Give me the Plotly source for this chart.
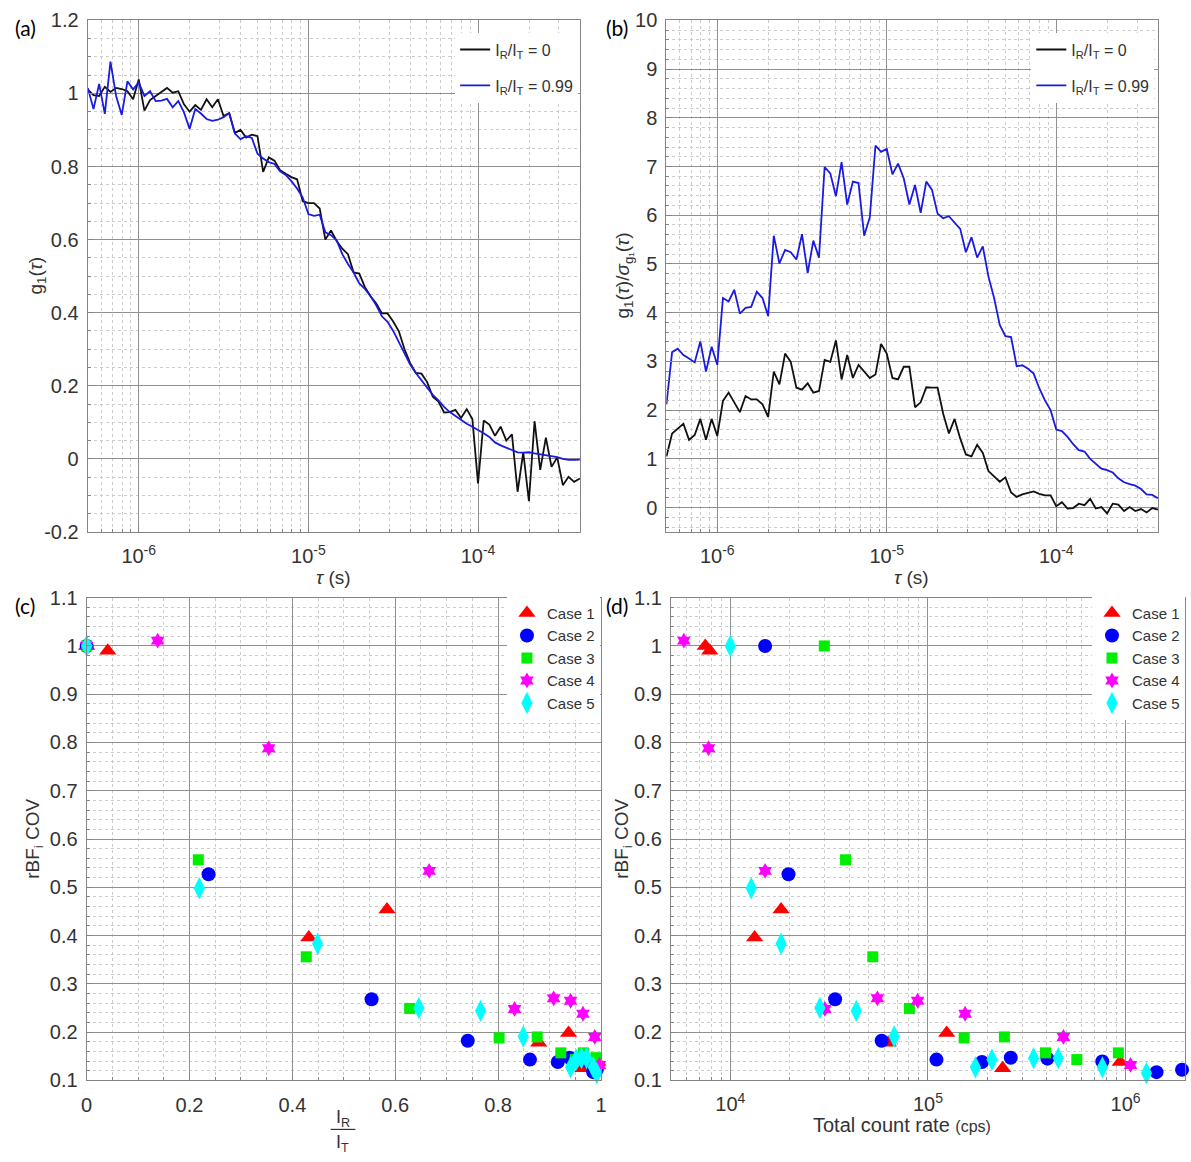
import plotly.graph_objects as go

W, H = 1191, 1162

# ---------------- data ----------------
tau_s = [
    5.012e-7, 5.412e-7, 5.843e-7, 6.310e-7, 6.813e-7, 7.356e-7, 7.943e-7, 8.577e-7, 9.261e-7,
    1.000e-6, 1.080e-6, 1.166e-6, 1.259e-6, 1.359e-6, 1.468e-6, 1.585e-6, 1.711e-6, 1.848e-6, 1.995e-6,
    2.154e-6, 2.326e-6, 2.512e-6, 2.712e-6, 2.929e-6, 3.162e-6, 3.415e-6, 3.687e-6, 3.981e-6, 4.299e-6,
    4.642e-6, 5.012e-6, 5.412e-6, 5.843e-6, 6.310e-6, 6.813e-6, 7.356e-6, 7.943e-6, 8.577e-6, 9.261e-6,
    1.000e-5, 1.080e-5, 1.166e-5, 1.259e-5, 1.359e-5, 1.468e-5, 1.585e-5, 1.711e-5, 1.848e-5, 1.995e-5,
    2.154e-5, 2.326e-5, 2.512e-5, 2.712e-5, 2.929e-5, 3.162e-5, 3.415e-5, 3.687e-5, 3.981e-5, 4.299e-5,
    4.642e-5, 5.012e-5, 5.412e-5, 5.843e-5, 6.310e-5, 6.813e-5, 7.356e-5, 7.943e-5, 8.577e-5, 9.261e-5,
    1.000e-4, 1.080e-4, 1.166e-4, 1.259e-4, 1.359e-4, 1.468e-4, 1.585e-4, 1.711e-4, 1.848e-4, 1.995e-4,
    2.154e-4, 2.326e-4, 2.512e-4, 2.712e-4, 2.929e-4, 3.162e-4, 3.415e-4, 3.687e-4, 3.981e-4,
]

g1_ratio0 = [
    1.010, 0.995, 0.993, 1.018, 1.004, 1.015, 1.012, 1.006, 0.984, 1.038,
    0.953, 0.982, 0.993, 1.004, 1.015, 1.002, 1.006, 0.970, 0.950, 0.968,
    0.955, 0.984, 0.962, 0.984, 0.938, 0.946, 0.892, 0.900, 0.879, 0.887,
    0.883, 0.785, 0.825, 0.816, 0.790, 0.780, 0.771, 0.765, 0.705, 0.700,
    0.700, 0.685, 0.600, 0.625, 0.596, 0.575, 0.560, 0.510, 0.507, 0.470,
    0.445, 0.425, 0.398, 0.398, 0.376, 0.349, 0.300, 0.262, 0.235, 0.233,
    0.210, 0.170, 0.157, 0.127, 0.128, 0.134, 0.112, 0.136, 0.109, -0.067,
    0.105, 0.094, 0.063, 0.088, 0.050, 0.067, -0.090, 0.018, -0.116, 0.103,
    -0.030, 0.058, -0.022, 0.004, -0.072, -0.049, -0.063, -0.054,
]

g1_ratio099 = [
    1.015, 0.957, 1.026, 0.944, 1.087, 0.993, 0.941, 1.033, 1.011, 1.030,
    0.993, 1.006, 0.979, 0.980, 0.985, 0.962, 0.979, 0.948, 0.903, 0.957,
    0.945, 0.930, 0.925, 0.928, 0.935, 0.946, 0.890, 0.875, 0.883, 0.878,
    0.835, 0.822, 0.812, 0.807, 0.787, 0.777, 0.760, 0.740, 0.715, 0.670,
    0.665, 0.668, 0.620, 0.612, 0.598, 0.560, 0.533, 0.510, 0.480, 0.465,
    0.445, 0.420, 0.390, 0.375, 0.350, 0.318, 0.290, 0.258, 0.235, 0.215,
    0.198, 0.175, 0.160, 0.142, 0.128, 0.117, 0.107, 0.096, 0.088, 0.080,
    0.070, 0.060, 0.045, 0.037, 0.030, 0.023, 0.018, 0.017, 0.018, 0.015,
    0.013, 0.010, 0.009, 0.005, 0.000, -0.003, -0.003, -0.002,
]

snr_ratio0 = [
    1.05, 1.52, 1.62, 1.72, 1.39, 1.49, 1.82, 1.39, 1.82, 1.47,
    2.19, 2.36, 2.16, 1.96, 2.29, 2.22, 2.22, 2.12, 1.86, 2.79,
    2.53, 3.16, 2.99, 2.46, 2.42, 2.55, 2.36, 2.39, 3.03, 2.99,
    3.43, 2.63, 3.13, 2.66, 2.93, 2.79, 2.66, 2.73, 3.36, 3.16,
    2.66, 2.63, 2.89, 2.89, 2.06, 2.16, 2.47, 2.46, 2.46, 1.92,
    1.52, 1.82, 1.42, 1.09, 1.05, 1.29, 1.12, 0.75, 0.65, 0.53,
    0.62, 0.31, 0.22, 0.27, 0.30, 0.33, 0.28, 0.25, 0.25, 0.03,
    0.11, -0.02, -0.01, 0.08, 0.05, 0.18, -0.02, 0.01, -0.12, 0.08,
    0.06, -0.07, 0.01, -0.07, -0.03, -0.10, -0.01, -0.04,
]

snr_ratio099 = [
    2.12, 3.19, 3.26, 3.13, 3.06, 2.98, 3.41, 2.79, 3.30, 2.93,
    4.30, 4.23, 4.47, 3.98, 4.10, 4.12, 4.43, 4.30, 3.93, 5.58,
    5.01, 5.29, 5.24, 5.09, 5.61, 4.81, 5.48, 5.13, 6.99, 6.86,
    6.39, 7.09, 6.22, 6.69, 6.66, 5.58, 5.96, 7.43, 7.30, 7.36,
    6.84, 7.06, 6.76, 6.22, 6.62, 6.05, 6.69, 6.52, 6.03, 5.94,
    5.98, 5.85, 5.72, 5.24, 5.55, 5.13, 5.36, 4.74, 4.30, 3.75,
    3.52, 3.50, 2.90, 2.92, 2.85, 2.75, 2.45, 2.20, 2.00, 1.60,
    1.57, 1.45, 1.30, 1.18, 1.15, 1.00, 0.90, 0.80, 0.77, 0.72,
    0.60, 0.52, 0.48, 0.45, 0.38, 0.27, 0.26, 0.19,
]

case_names = ["Case 1", "Case 2", "Case 3", "Case 4", "Case 5"]

ratio_case1 = [0.0, 0.041, 0.432, 0.584, 0.879, 0.937, 0.965, 0.994]
rate_case1 = [7470, 7870, 13280, 18070, 63000, 124500, 239000, 940000]
cov_case1 = [1.0, 0.99, 0.396, 0.454, 0.178, 0.198, 0.125, 0.138]

ratio_case2 = [0.0, 0.237, 0.554, 0.741, 0.862, 0.916, 0.939, 0.960, 0.975, 0.985, 0.992]
rate_case2 = [15000, 19700, 33900, 58300, 110500, 187600, 262500, 402500, 763000, 1435000, 1932000]
cov_case2 = [1.0, 0.527, 0.268, 0.182, 0.143, 0.138, 0.147, 0.145, 0.139, 0.117, 0.122]

ratio_case3 = [0.0, 0.217, 0.427, 0.628, 0.802, 0.876, 0.922, 0.950, 0.966, 0.990]
rate_case3 = [29900, 38300, 52600, 80600, 152500, 243800, 393500, 567000, 920000, 2020000]
cov_case3 = [1.0, 0.557, 0.356, 0.249, 0.188, 0.190, 0.157, 0.143, 0.157, 0.147]

ratio_case4 = [0.0, 0.138, 0.354, 0.666, 0.832, 0.908, 0.941, 0.965, 0.988, 0.997]
rate_case4 = [5000, 5820, 7760, 15000, 30100, 55500, 88700, 154200, 485000, 1060000]
cov_case4 = [1.0, 1.011, 0.788, 0.534, 0.248, 0.270, 0.265, 0.238, 0.190, 0.132]

ratio_case5 = [0.0, 0.219, 0.449, 0.646, 0.766, 0.849, 0.941, 0.952, 0.962, 0.972, 0.985, 0.992]
rate_case5 = [10000, 12760, 18070, 28400, 43400, 67500, 174000, 211000, 342600, 456600, 763600, 1276000]
cov_case5 = [1.0, 0.498, 0.383, 0.250, 0.244, 0.191, 0.127, 0.143, 0.146, 0.146, 0.127, 0.115]

tau_ticks = [1e-6, 1e-5, 1e-4]
tau_ticktext = ["10<sup>-6</sup>", "10<sup>-5</sup>", "10<sup>-4</sup>"]
rate_ticks = [1e4, 1e5, 1e6]
rate_ticktext = ["10<sup>4</sup>", "10<sup>5</sup>", "10<sup>6</sup>"]
g1_ticks = [-0.2, 0, 0.2, 0.4, 0.6, 0.8, 1, 1.2]
g1_ticktext = ["-0.2", "0", "0.2", "0.4", "0.6", "0.8", "1", "1.2"]
snr_ticks = [0, 1, 2, 3, 4, 5, 6, 7, 8, 9, 10]
cov_ticks = [0.1, 0.2, 0.3, 0.4, 0.5, 0.6, 0.7, 0.8, 0.9, 1.0, 1.1]
cov_ticktext = ["0.1", "0.2", "0.3", "0.4", "0.5", "0.6", "0.7", "0.8", "0.9", "1", "1.1"]
ratio_ticks = [0, 0.2, 0.4, 0.6, 0.8, 1.0]
ratio_ticktext = ["0", "0.2", "0.4", "0.6", "0.8", "1"]

# ---------------- style ----------------
FONT = "Liberation Sans, Arial, Helvetica, sans-serif"
TXT = "#333333"
GRID = "#909090"
MINOR = "#cccccc"
FRAME = "#858585"
BLACK = "#111111"
BLUE = "#1a1ae0"
case_colors = ["#ff0000", "#0000ff", "#00ee00", "#ff00ff", "#00ffff"]
case_symbols = ["triangle-up", "circle", "square", "hexagram", "diamond-tall"]
case_sizes = [15, 14, 11, 12, 16]

tau_minor = [m * 10 ** e for e in (-7, -6, -5, -4) for m in range(2, 10)
             if 5e-7 <= m * 10 ** e <= 4e-4]
rate_minor = [m * 10 ** e for e in (3, 4, 5, 6) for m in range(2, 10)
              if 5e3 <= m * 10 ** e <= 2e6]


def axis(domain, **kw):
    d = dict(domain=domain, showline=True, linecolor=FRAME, linewidth=1, mirror=True,
             ticks="inside", ticklen=6, tickcolor=FRAME, showgrid=True, gridcolor=GRID,
             gridwidth=1, zeroline=False, tickfont=dict(family=FONT, size=20, color=TXT),
             tickmode="array")
    d.update(kw)
    return d


def lin_minor(dt):
    return dict(tickmode="linear", tick0=0, dtick=dt, showgrid=True, gridcolor=MINOR,
                griddash="dot", gridwidth=1, ticks="inside", ticklen=3, tickcolor=FRAME)


def log_minor(vals):
    return dict(tickmode="array", tickvals=vals, showgrid=True, gridcolor=MINOR,
                griddash="dot", gridwidth=1, ticks="inside", ticklen=3, tickcolor=FRAME)


fig = go.Figure()

# (a)
fig.add_trace(go.Scatter(x=tau_s, y=g1_ratio0, mode="lines", line=dict(color=BLACK, width=1.8),
                         name="I<sub>R</sub>/I<sub>T</sub> = 0", legendgroup="a0",
                         xaxis="x", yaxis="y", legend="legend"))
fig.add_trace(go.Scatter(x=tau_s, y=g1_ratio099, mode="lines", line=dict(color=BLUE, width=1.8),
                         name="I<sub>R</sub>/I<sub>T</sub> = 0.99", legendgroup="a1",
                         xaxis="x", yaxis="y", legend="legend"))
# (b)
fig.add_trace(go.Scatter(x=tau_s, y=snr_ratio0, mode="lines", line=dict(color=BLACK, width=1.8),
                         name="I<sub>R</sub>/I<sub>T</sub> = 0", legendgroup="b0",
                         xaxis="x2", yaxis="y2", legend="legend2"))
fig.add_trace(go.Scatter(x=tau_s, y=snr_ratio099, mode="lines", line=dict(color=BLUE, width=1.8),
                         name="I<sub>R</sub>/I<sub>T</sub> = 0.99", legendgroup="b1",
                         xaxis="x2", yaxis="y2", legend="legend2"))

ratios = [ratio_case1, ratio_case2, ratio_case3, ratio_case4, ratio_case5]
rates = [rate_case1, rate_case2, rate_case3, rate_case4, rate_case5]
covs = [cov_case1, cov_case2, cov_case3, cov_case4, cov_case5]

for i in range(5):
    mk = dict(symbol=case_symbols[i], size=case_sizes[i], color=case_colors[i],
              line=dict(width=0))
    fig.add_trace(go.Scatter(x=ratios[i], y=covs[i], mode="markers", marker=mk,
                             name=case_names[i], xaxis="x3", yaxis="y3", legend="legend3",
                             cliponaxis=False))
for i in range(5):
    mk = dict(symbol=case_symbols[i], size=case_sizes[i], color=case_colors[i],
              line=dict(width=0))
    fig.add_trace(go.Scatter(x=rates[i], y=covs[i], mode="markers", marker=mk,
                             name=case_names[i], xaxis="x4", yaxis="y4", legend="legend4",
                             cliponaxis=False))

# domains (pixel based)
ya_dom = [1 - 531 / H, 1 - 9.5 / H]
yc_dom = [1 - 1090 / H, 1 - 598 / H]

LEGFONT = dict(family=FONT, size=15, color=TXT)

fig.update_layout(
    width=W, height=H, margin=dict(l=0, r=0, t=0, b=0),
    paper_bgcolor="white", plot_bgcolor="white",
    font=dict(family=FONT, color=TXT),
    xaxis=axis([82.5 / W, 580 / W], type="log", range=[-6.301, -3.398],
               tickvals=tau_ticks, ticktext=tau_ticktext, minor=log_minor(tau_minor),
               anchor="y", ticklabelstandoff=6),
    yaxis=axis(ya_dom, range=[-0.2, 1.2], tickvals=g1_ticks, ticktext=g1_ticktext,
               minor=lin_minor(0.05), anchor="x", ticklabelstandoff=4),
    xaxis2=axis([667 / W, 1164 / W], type="log", range=[-6.301, -3.398],
                tickvals=tau_ticks, ticktext=tau_ticktext, minor=log_minor(tau_minor),
                anchor="y2", ticklabelstandoff=6),
    yaxis2=axis(ya_dom, range=[-0.5, 10], tickvals=snr_ticks,
                ticktext=[str(v) for v in snr_ticks],
                minor=lin_minor(0.2), anchor="x2", ticklabelstandoff=4),
    xaxis3=axis([81.5 / W, 601 / W], range=[0, 1], tickvals=ratio_ticks, ticktext=ratio_ticktext,
                minor=lin_minor(0.05), anchor="y3", ticklabelstandoff=7),
    yaxis3=axis(yc_dom, range=[0.1, 1.1], tickvals=cov_ticks, ticktext=cov_ticktext,
                minor=lin_minor(0.02), anchor="x3", ticklabelstandoff=4),
    xaxis4=axis([671.6 / W, 1.0], type="log", range=[3.699, 6.301],
                tickvals=rate_ticks, ticktext=rate_ticktext, minor=log_minor(rate_minor),
                anchor="y4", ticklabelstandoff=6),
    yaxis4=axis(yc_dom, range=[0.1, 1.1], tickvals=cov_ticks, ticktext=cov_ticktext,
                minor=lin_minor(0.02), anchor="x4", ticklabelstandoff=4),
    legend=dict(x=578 / W, xanchor="right", y=1 - 22 / H, yanchor="top", bgcolor="white",
                borderwidth=0, font=dict(family=FONT, size=16, color=TXT), tracegroupgap=12),
    legend2=dict(x=1160 / W, xanchor="right", y=1 - 22 / H, yanchor="top", bgcolor="white",
                 borderwidth=0, font=dict(family=FONT, size=16, color=TXT), tracegroupgap=12),
    legend3=dict(x=600 / W, xanchor="right", y=1 - 597 / H, yanchor="top", bgcolor="white",
                 borderwidth=0, font=LEGFONT),
    legend4=dict(x=1191 / W, xanchor="right", y=1 - 597 / H, yanchor="top", bgcolor="white",
                 borderwidth=0, font=LEGFONT),
)


def ann(px, py, text, size=19, angle=0, xanchor="center", family=FONT, color=TXT):
    fig.add_annotation(x=px / W, y=1 - py / H, xref="paper", yref="paper", text=text,
                       showarrow=False, textangle=angle, xanchor=xanchor, yanchor="middle",
                       font=dict(family=family, size=size, color=color))


# axis titles
ann(331, 577, "<i>τ</i> (s)")
ann(915, 577, "<i>τ</i> (s)")
ann(31, 270, "g<sub>1</sub>(<i>τ</i>)", angle=-90)
ann(624, 270, "g<sub>1</sub>(<i>τ</i>)/<i>σ</i><sub>g₁</sub>(<i>τ</i>)", angle=-90)
ann(28, 844, "rBF<sub>i</sub> COV", angle=-90)
ann(623, 844, "rBF<sub>i</sub> COV", angle=-90)
ann(340, 1129, "I<sub>R</sub>", size=18)
ann(340, 1154, "I<sub>T</sub>", size=18)
fig.add_shape(type="line", xref="paper", yref="paper", x0=328 / W, x1=353 / W,
              y0=1 - 1140 / H, y1=1 - 1140 / H, line=dict(color=TXT, width=1.2))
ann(905, 1136, "Total count rate <span style='font-size:16px'>(cps)</span>", size=20)

# panel labels
LBL = "Lato, Open Sans, sans-serif"
ann(7, 17, "(a)", size=21, xanchor="left", family=LBL, color="#000000")
ann(604, 17, "(b)", size=21, xanchor="left", family=LBL, color="#000000")
ann(7, 606, "(c)", size=21, xanchor="left", family=LBL, color="#000000")
ann(604, 606, "(d)", size=21, xanchor="left", family=LBL, color="#000000")

fig.write_html("out.html")
